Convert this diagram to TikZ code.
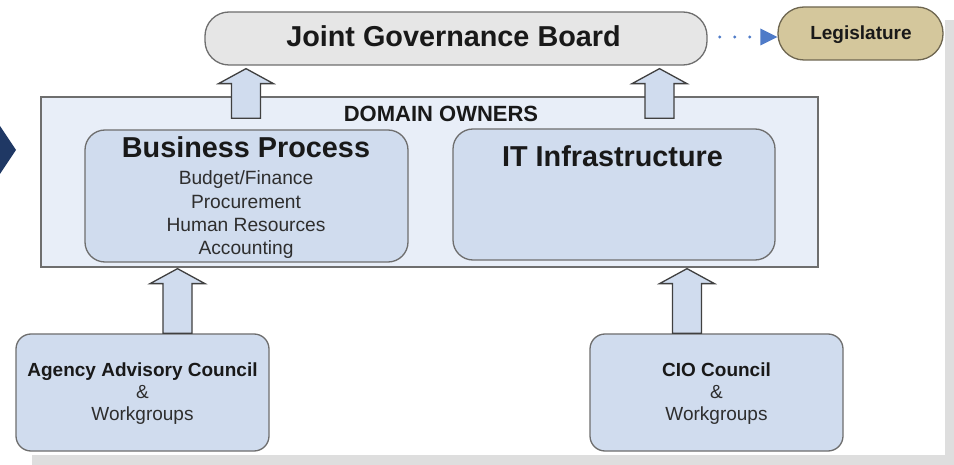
\documentclass[tikz,border=0pt]{standalone}
\usepackage{fontspec}
\setmainfont{Liberation Sans}
\usetikzlibrary{arrows.meta,calc}
\definecolor{shadowgray}{HTML}{DEDEDE}
\definecolor{navy}{HTML}{1F3864}
\definecolor{bordergray}{HTML}{6E6E6E}
\definecolor{jgbfill}{HTML}{E6E6E6}
\definecolor{legfill}{HTML}{D4C79C}
\definecolor{legborder}{HTML}{6E6650}
\definecolor{outerfill}{HTML}{E8EEF8}
\definecolor{innerfill}{HTML}{D0DCEE}
\definecolor{arrowborder}{HTML}{404040}
\definecolor{dotblue}{HTML}{4F7BC8}
\definecolor{subtext}{HTML}{2E2E2E}
\newcommand\myblockarrow[2]{%
  \draw[barrow] let \p1=#1, \p2=#2 in
    (\x1-14.5pt,\y1) -- (\x1-14.5pt,\y2-15pt) -- (\x1-27.5pt,\y2-15pt) -- (\x2,\y2)
    -- (\x1+27.5pt,\y2-15pt) -- (\x1+14.5pt,\y2-15pt) -- (\x1+14.5pt,\y1) -- cycle;}
\begin{document}
\begin{tikzpicture}[x=1pt,y=-1pt,
  box/.style={draw=bordergray, line width=1.3pt, inner sep=0pt},
  jgbbox/.style={box, fill=jgbfill, rounded corners=24pt},
  legbox/.style={box, draw=legborder, fill=legfill, rounded corners=26pt},
  outerbox/.style={box, fill=outerfill},
  innerbox/.style={box, fill=innerfill, rounded corners=20pt},
  lowbox/.style={box, fill=innerfill, rounded corners=15pt},
  barrow/.style={draw=arrowborder, fill=innerfill, line width=1.3pt, line join=miter},
  lbl/.style={anchor=base, inner sep=0pt},
  bigtitle/.style={lbl, text=black!90, font=\fontsize{28.8}{34}\selectfont\bfseries},
  subline/.style={lbl, text=subtext, font=\fontsize{19.2}{23}\selectfont},
  boldline/.style={lbl, text=black!90, font=\fontsize{19}{23}\selectfont\bfseries},
  regline/.style={lbl, text=subtext, font=\fontsize{19}{23}\selectfont},
  dotline/.style={dotblue, line width=3.2pt, line cap=round, dash pattern=on 0pt off 15pt,
    -{Triangle[line width=0pt, length=17pt, width=17pt, fill=dotblue]}}
]
\useasboundingbox (0,0) rectangle (954,465);
\fill[white] (0,0) rectangle (954,465);
\fill[shadowgray] (945,20) rectangle (954,465);
\fill[shadowgray] (32,455) rectangle (954,465);
\fill[navy] (0,126) -- (16,150) -- (0,174) -- cycle;

% top row
\node[jgbbox, minimum width=502pt, minimum height=53pt] (jgb) at (456,38.5) {};
\node[bigtitle] (jgbt) at (453.5,47) {Joint Governance Board};
\node[legbox, minimum width=165pt, minimum height=53pt] (leg) at (860.5,33.5) {};
\node[lbl, text=black!90, font=\fontsize{19}{23}\selectfont\bfseries] (legt) at (861,39.5) {Legislature};
\coordinate (dstart) at ($(jgb.east)+(12,-1.5)$);
\draw[dotline] (dstart) -- (leg.west |- dstart);

% domain owners
\node[outerbox, minimum width=777pt, minimum height=170pt] (dom) at (429.5,182) {};
\node[lbl, text=black!90, font=\fontsize{22}{26}\selectfont\bfseries] (domt) at (441,122) {DOMAIN OWNERS};
\node[innerbox, minimum width=323pt, minimum height=132pt] (bp) at (246.5,196) {};
\node[bigtitle] (bpt) at (246,157.5) {Business Process};
\node[subline] (bp1) at (246,185) {Budget/Finance};
\node[subline] (bp2) at (246,208.3) {Procurement};
\node[subline] (bp3) at (246,231.6) {Human Resources};
\node[subline] (bp4) at (246,254.9) {Accounting};
\node[innerbox, minimum width=322pt, minimum height=131pt] (it) at (614,194.5) {};
\node[bigtitle] (itt) at (612.5,167) {IT Infrastructure};

% councils
\node[lowbox, minimum width=253pt, minimum height=117pt] (aac) at (142.5,392.5) {};
\node[boldline] (aac1) at (142.5,376.5) {Agency Advisory Council};
\node[regline] (aac2) at (142.5,398) {\&};
\node[regline] (aac3) at (142.5,420) {Workgroups};
\node[lowbox, minimum width=253pt, minimum height=117pt] (cio) at (716.5,392.5) {};
\node[boldline] (cio1) at (716.5,376.5) {CIO Council};
\node[regline] (cio2) at (716.5,398) {\&};
\node[regline] (cio3) at (716.5,420) {Workgroups};

% block arrows
\coordinate (u1b) at ($(bp.north)+(-0.5,-11)$);
\coordinate (u1t) at ($(jgb.south)+(-210,3)$);
\coordinate (u2b) at ($(it.north)+(45.5,-10)$);
\coordinate (u2t) at ($(jgb.south)+(203.5,3)$);
\coordinate (l1b) at ($(aac.north)+(35,0)$);
\coordinate (l1t) at ($(dom.south)+(-252,1)$);
\coordinate (l2b) at ($(cio.north)+(-29.5,0)$);
\coordinate (l2t) at ($(dom.south)+(257.5,1)$);
\myblockarrow{(u1b)}{(u1t)}
\myblockarrow{(u2b)}{(u2t)}
\myblockarrow{(l1b)}{(l1t)}
\myblockarrow{(l2b)}{(l2t)}
\end{tikzpicture}
\end{document}
